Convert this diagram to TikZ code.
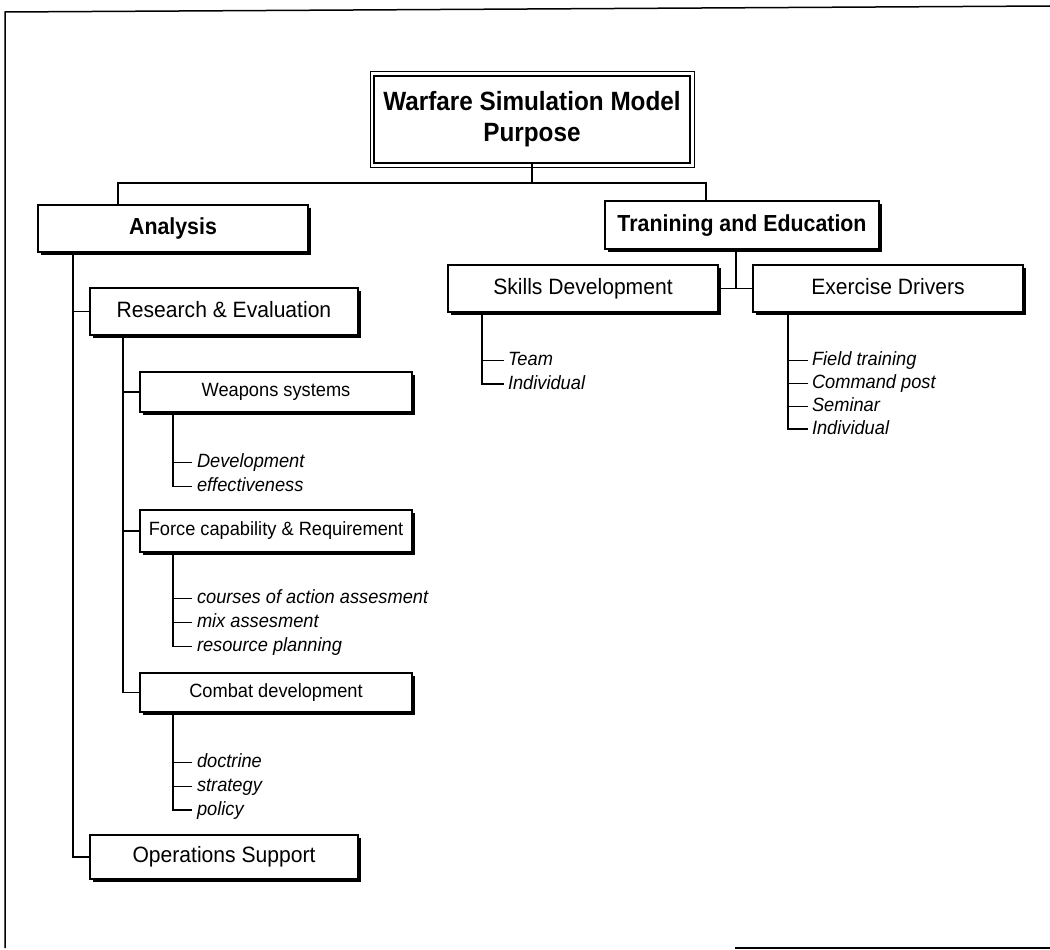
\documentclass[tikz,border=0pt]{standalone}
\usepackage{fontspec}
\setmainfont{Liberation Sans}[FakeStretch=0.95]
\newfontfamily\headfont{Liberation Sans}[FakeStretch=0.92]
\usetikzlibrary{calc,shadows}

\begin{document}
\begin{tikzpicture}[x=1pt,y=-1pt,
  every node/.style={inner sep=0pt, outer sep=0pt},
  wire/.style={line width=1.3pt},
  tick/.style={line width=0.9pt},
  box/.style={draw, line width=1.2pt, fill=white, rectangle, align=center,
    text depth=4pt,
    drop shadow={shadow xshift=2.5pt, shadow yshift=-2.5pt, fill=black, opacity=1}},
  titlebox/.style={draw, line width=2.4pt, fill=white, rectangle, align=center,
    minimum width=316pt, minimum height=87pt,
    font=\headfont\fontsize{26.4}{31}\selectfont\bfseries},
  headbox/.style={box, minimum width=272pt, minimum height=47pt, text height=16.6pt,
    font=\headfont\fontsize{23.2}{26}\selectfont\bfseries},
  midbox/.style={box, minimum width=268pt, minimum height=47pt, text height=15.9pt,
    font=\fontsize{22.2}{25}\selectfont},
  subbox/.style={box, minimum width=272pt, minimum height=40pt, text height=13.7pt,
    font=\fontsize{19.2}{22}\selectfont},
  leaf/.style={anchor=west, font=\fontsize{19.2}{22}\selectfont\itshape,
    text height=10pt, text depth=0pt}
]
\useasboundingbox (0,0) rectangle (1050,950);

% page frame
\draw[line width=1.5pt] (1050,6) -- (5,12) -- (5,948);
\draw[line width=1.5pt] (735,948) -- (1050,948);

% top of the tree
\node[titlebox] (title) at (532,119.5) {Warfare Simulation Model\\Purpose};
\draw[line width=1pt] ($(title.north west)+(-4,-4)$) rectangle ($(title.south east)+(4,4)$);

\node[headbox, minimum width=270pt] (analysis) at (173,228.5) {Analysis};
\node[headbox, minimum width=274pt, minimum height=48pt] (training) at (742,225) {Tranining and Education};

% analysis branch
\node[midbox] (re) at (224,311.5) {Research \& Evaluation};
\node[subbox] (weapons) at (276,392) {Weapons systems};
\node[subbox, minimum height=42pt] (force) at (276,531) {Force capability \& Requirement};
\node[subbox, minimum height=39pt] (combat) at (276,692.5) {Combat development};
\node[midbox, minimum height=44pt] (ops) at (224,857) {Operations Support};

% training branch
\node[midbox, minimum width=270pt] (skills) at (583,288.5) {Skills Development};
\node[midbox, minimum width=270pt] (exercise) at (888,288.5) {Exercise Drivers};

% leaf items
\node[leaf] (dev) at (197,462) {Development};
\node[leaf] (eff) at (197,486.5) {effectiveness};
\node[leaf] (coa) at (197,598) {courses of action assesment};
\node[leaf] (mix) at (197,622) {mix assesment};
\node[leaf] (res) at (197,646.5) {resource planning};
\node[leaf] (doc) at (197,762) {doctrine};
\node[leaf] (str) at (197,786) {strategy};
\node[leaf] (pol) at (197,810) {policy};
\node[leaf] (team) at (508,360) {Team};
\node[leaf] (indA) at (508,384) {Individual};
\node[leaf] (field) at (812,360) {Field training};
\node[leaf] (cmd) at (812,383) {Command post};
\node[leaf] (sem) at (812,406) {Seminar};
\node[leaf] (indB) at (812,429) {Individual};

% connectors from the title
\coordinate (j0) at ($(title.south)+(0,20)$);
\draw[wire] (title.south) -- (j0);
\draw[wire] ($(analysis.north west)+(80,0)$) |- (j0) -| ($(training.north west)+(101,0)$);

% analysis spine
\coordinate (aS) at ($(analysis.south west)+(35,0)$);
\draw[wire] (aS) |- (ops.west);
\draw[wire] (re.west) -- (re.west -| aS);

% research & evaluation spine
\coordinate (rS) at ($(re.south west)+(33,0)$);
\draw[wire] (rS) |- (combat.west);
\draw[wire] (weapons.west) -- (weapons.west -| rS);
\draw[wire] (force.west) -- (force.west -| rS);

% weapons systems items
\coordinate (wS) at ($(weapons.south west)+(33,0)$);
\draw[wire] (wS) |- ($(eff.west)+(-5,0)$);
\draw[tick] ($(dev.west)+(-5,0)$) -- (dev.west -| wS);

% force capability items
\coordinate (fS) at ($(force.south west)+(33,0)$);
\draw[wire] (fS) |- ($(res.west)+(-5,0)$);
\draw[tick] ($(coa.west)+(-5,0)$) -- (coa.west -| fS);
\draw[tick] ($(mix.west)+(-5,0)$) -- (mix.west -| fS);

% combat development items
\coordinate (cS) at ($(combat.south west)+(33,0)$);
\draw[wire] (cS) |- ($(pol.west)+(-5,0)$);
\draw[tick] ($(doc.west)+(-5,0)$) -- (doc.west -| cS);
\draw[tick] ($(str.west)+(-5,0)$) -- (str.west -| cS);

% training spine
\coordinate (tS) at ($(training.south)+(-6,0)$);
\draw[wire] (tS) -- (tS |- skills.east);
\draw[wire] (skills.east) -- (exercise.west);

% skills development items
\coordinate (sS) at ($(skills.south west)+(34,0)$);
\draw[wire] (sS) |- ($(indA.west)+(-4,0)$);
\draw[tick] ($(team.west)+(-4,0)$) -- (team.west -| sS);

% exercise drivers items
\coordinate (eS) at ($(exercise.south west)+(35,0)$);
\draw[wire] (eS) |- ($(indB.west)+(-4,0)$);
\draw[tick] ($(field.west)+(-4,0)$) -- (field.west -| eS);
\draw[tick] ($(cmd.west)+(-4,0)$) -- (cmd.west -| eS);
\draw[tick] ($(sem.west)+(-4,0)$) -- (sem.west -| eS);
\end{tikzpicture}
\end{document}
